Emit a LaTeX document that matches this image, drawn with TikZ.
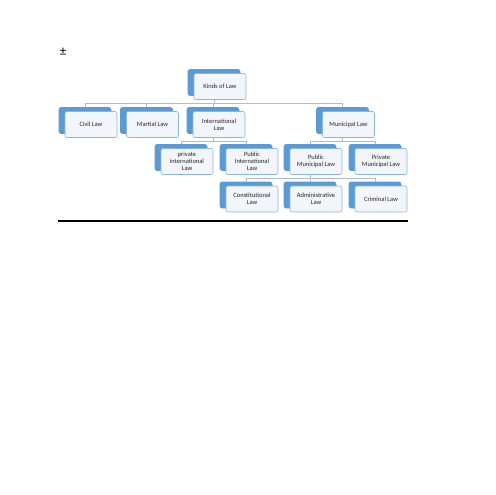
\documentclass[tikz,border=0pt]{standalone}
\usepackage{fontspec}
\setmainfont{Carlito}
\usetikzlibrary{shadows}
\definecolor{backblue}{HTML}{5B9BD5}
\definecolor{frontfill}{HTML}{F2F5FA}
\definecolor{frontline}{HTML}{8DB3E2}
\definecolor{linkgrey}{HTML}{A9BCD4}
\definecolor{textgrey}{HTML}{262626}
\begin{document}
\begin{tikzpicture}[
    x=1pt, y=-1pt,
    law/.style={rectangle, rounded corners=2pt, draw=frontline, fill=frontfill, line width=0.6pt,
        minimum width=52pt, minimum height=26pt, align=center, text=textgrey, inner sep=1pt,
        font=\fontsize{6.5}{7}\selectfont,
        copy shadow={shadow xshift=-6pt, shadow yshift=4pt, fill=backblue, draw=backblue}},
    link/.style={draw=linkgrey, line width=0.6pt}
]
    \useasboundingbox (0,0) rectangle (495,495);

    % Mark
    \node[font=\fontsize{13}{13}\selectfont] (mark) at (63,52) {±};

    % Root
    \node[law] (kinds) at (220,86.5) {Kinds of Law};

    % First level
    \node[law] (civil) at (91,124.5) {Civil Law};
    \node[law] (martial) at (152.5,124.5) {Martial Law};
    \node[law] (intl) at (219,124.5) {International\\Law};
    \node[law] (municipal) at (348.5,124.5) {Municipal Law};

    % Second level
    \node[law] (privintl) at (187,161.5) {private\\international\\Law};
    \node[law] (pubintl) at (252,161.5) {Public\\International\\Law};
    \node[law] (pubmun) at (316,161.5) {Public\\Municipal Law};
    \node[law] (privmun) at (381,161.5) {Private\\Municipal Law};

    % Third level
    \node[law] (constit) at (252,199) {Constitutional\\Law};
    \node[law] (admin) at (316,199) {Administrative\\Law};
    \node[law] (criminal) at (381,199) {Criminal Law};

    % Links
    \draw[link] ([xshift=-6pt]kinds.south) -- ++(0,3) -| ([xshift=-6pt,yshift=4pt]civil.north);
    \draw[link] ([xshift=-6pt]kinds.south) -- ++(0,3) -| ([xshift=-6pt,yshift=4pt]martial.north);
    \draw[link] ([xshift=-6pt]kinds.south) -- ++(0,3) -| ([xshift=-6pt,yshift=4pt]intl.north);
    \draw[link] ([xshift=-6pt]kinds.south) -- ++(0,3) -| ([xshift=-6pt,yshift=4pt]municipal.north);

    \draw[link] ([xshift=-6pt]intl.south) -- ++(0,3) -| ([xshift=-6pt,yshift=4pt]privintl.north);
    \draw[link] ([xshift=-6pt]intl.south) -- ++(0,3) -| ([xshift=-6pt,yshift=4pt]pubintl.north);

    \draw[link] ([xshift=-6pt]municipal.south) -- ++(0,3) -| ([xshift=-6pt,yshift=4pt]pubmun.north);
    \draw[link] ([xshift=-6pt]municipal.south) -- ++(0,3) -| ([xshift=-6pt,yshift=4pt]privmun.north);

    \draw[link] ([xshift=-6pt]pubmun.south) -- ++(0,3) -| ([xshift=-6pt,yshift=4pt]constit.north);
    \draw[link] ([xshift=-6pt]pubmun.south) -- ++(0,3) -| ([xshift=-6pt,yshift=4pt]admin.north);
    \draw[link] ([xshift=-6pt]pubmun.south) -- ++(0,3) -| ([xshift=-6pt,yshift=4pt]criminal.north);

    % Rule
    \draw[line width=1.2pt] (58,221) -- (408,221);
\end{tikzpicture}
\end{document}
